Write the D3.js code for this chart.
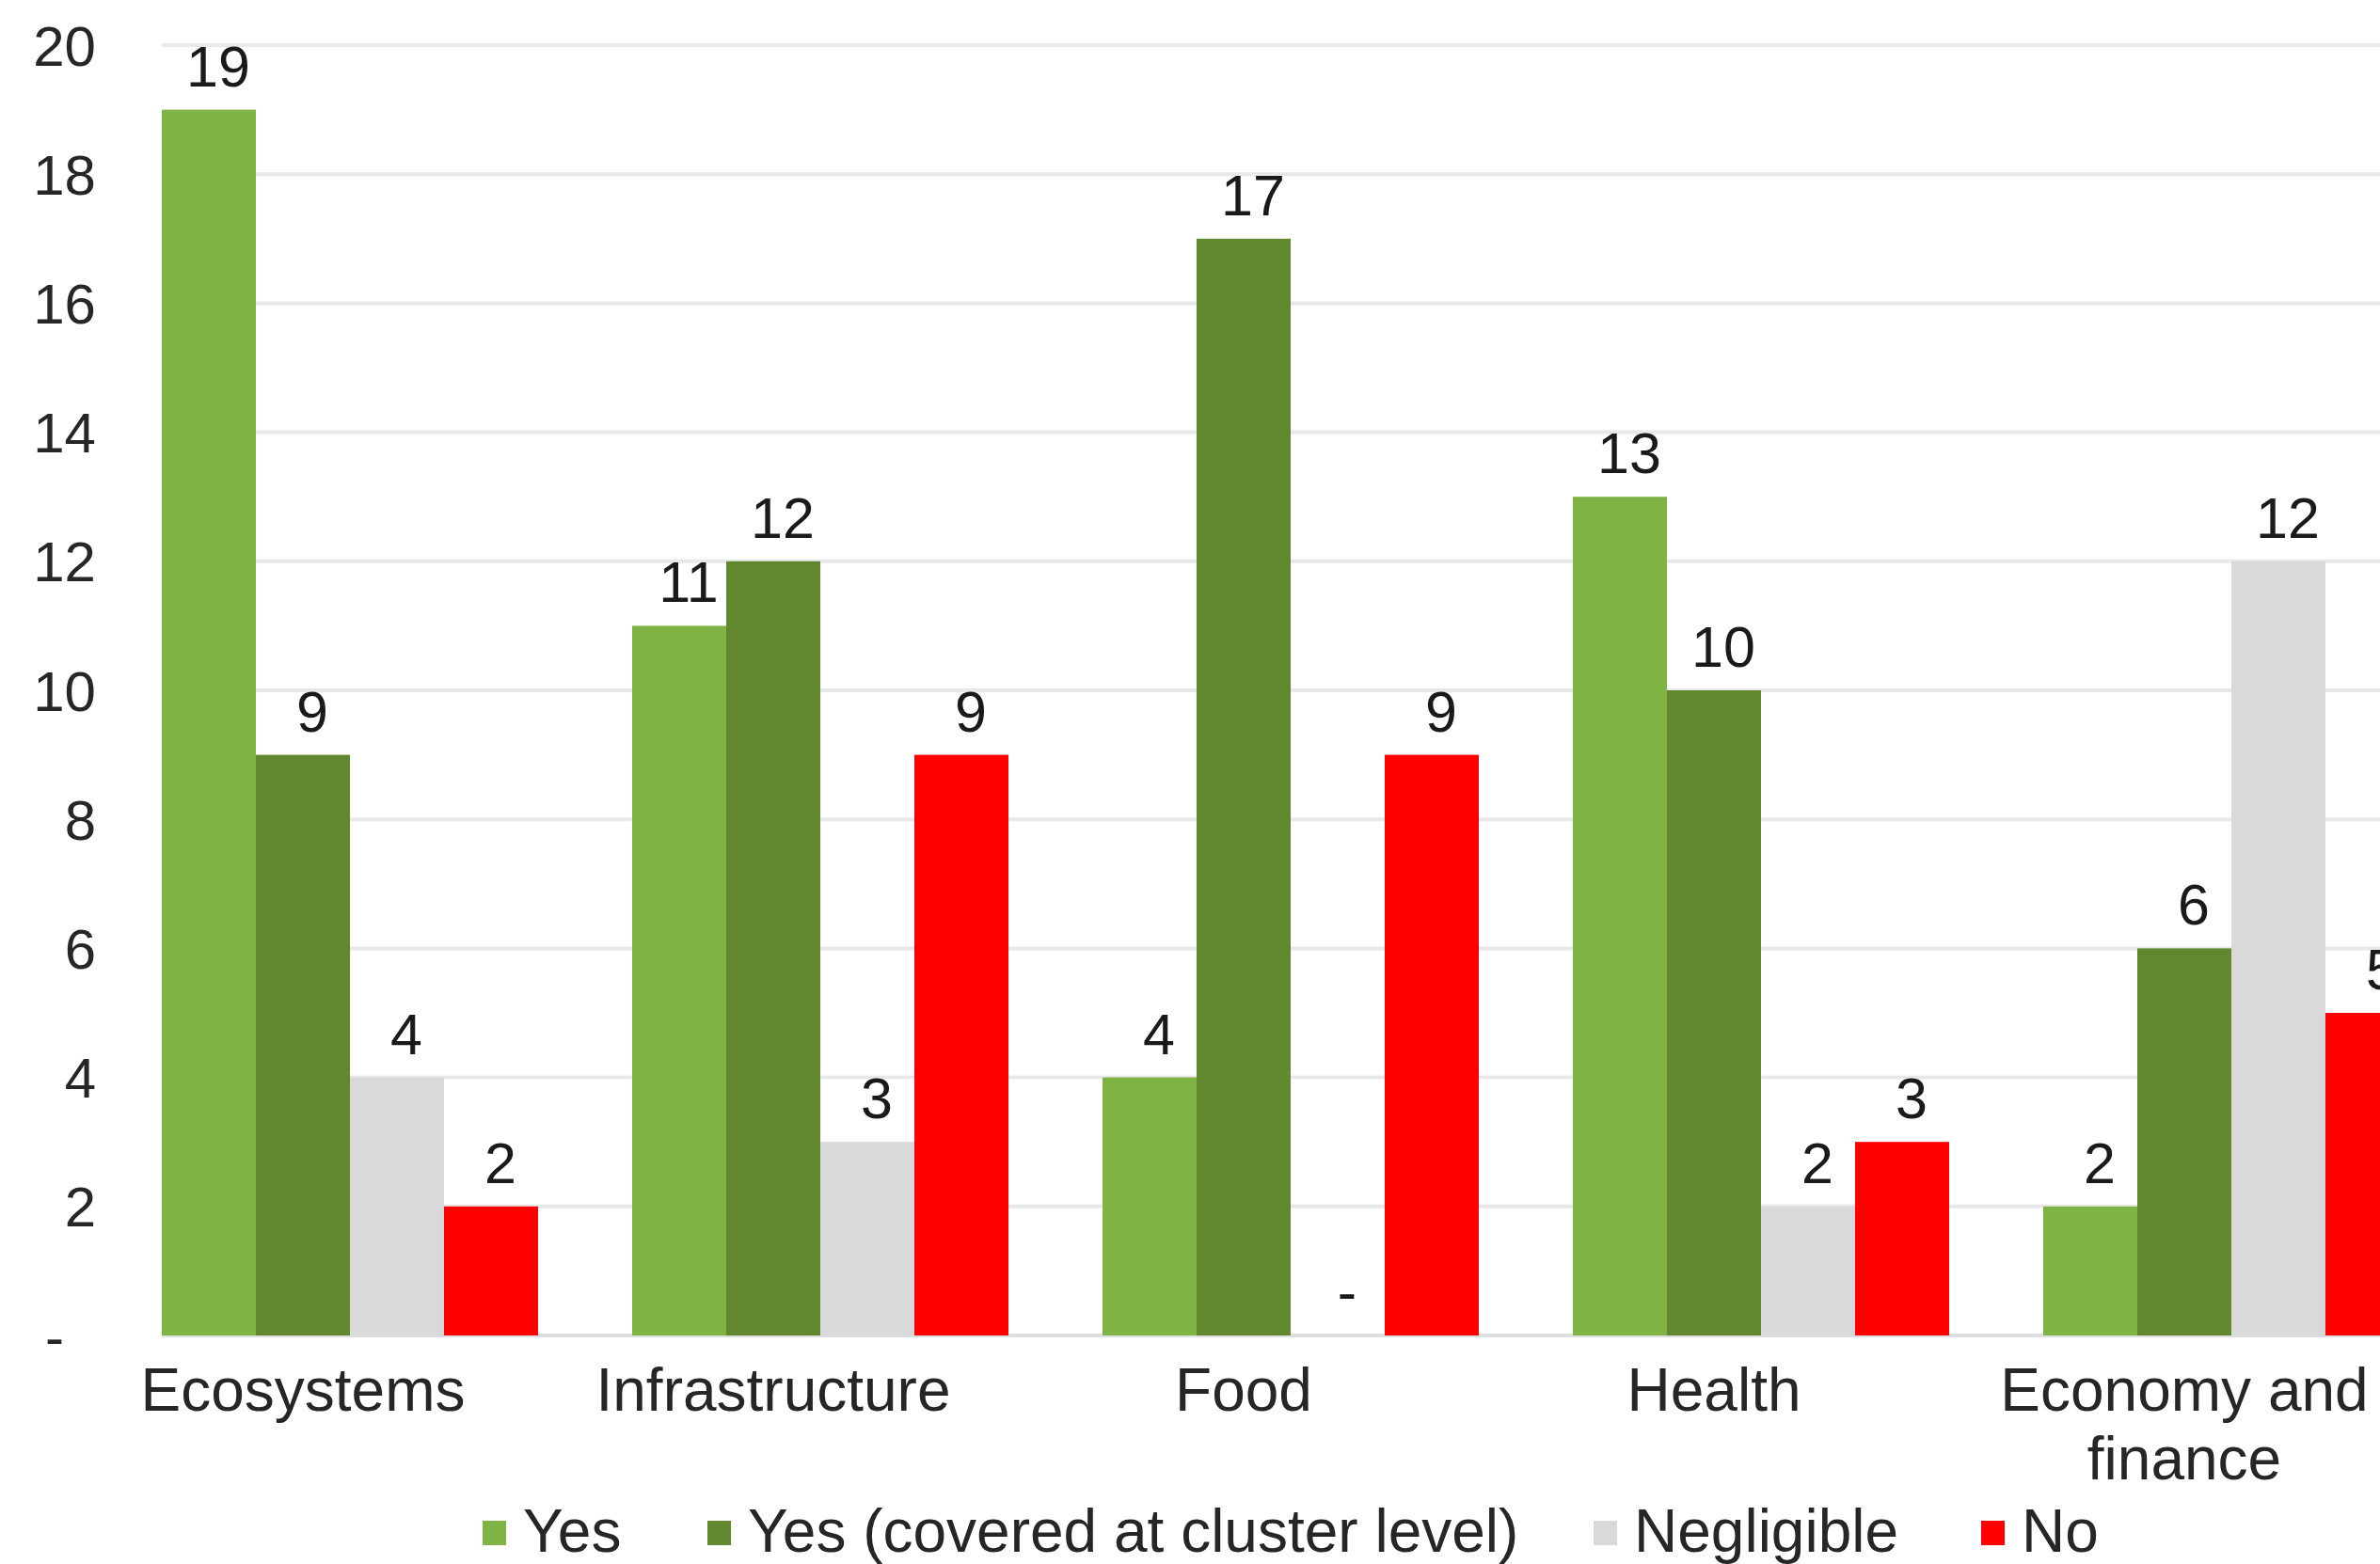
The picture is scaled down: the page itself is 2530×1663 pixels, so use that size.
<!DOCTYPE html>
<html>
<head>
<meta charset="utf-8">
<script src="https://cdn.jsdelivr.net/npm/d3@7"></script>
<style>
  html, body { margin: 0; padding: 0; background: #fff; overflow: hidden; }
  svg { display: block; }
  text { font-family: "Liberation Sans", Arial, sans-serif; }
</style>
</head>
<body>
<svg id="chart" width="2530" height="1663"></svg>
<script>
// Categories (last one runs past the right edge of the frame)
const categories = ["Ecosystems", "Infrastructure", "Food", "Health", "Economy and finance"];
const categoryLines = [["Ecosystems"], ["Infrastructure"], ["Food"], ["Health"], ["Economy and", "finance"]];

// Series
const seriesNames = ["Yes", "Yes (covered at cluster level)", "Negligible", "No"];
const seriesColors = ["#7fb343", "#61882f", "#d9d9d9", "#ff0000"];
const yesValues = [19, 11, 4, 13, 2];
const yesClusterValues = [9, 12, 17, 10, 6];
const negligibleValues = [4, 3, 0, 2, 12];
const noValues = [2, 9, 9, 3, 5];

// Y axis ticks
const yTicks = [0, 2, 4, 6, 8, 10, 12, 14, 16, 18, 20];

const seriesValues = [yesValues, yesClusterValues, negligibleValues, noValues];

const svg = d3.select("#chart");
const W = 2530, H = 1663;
const plotLeft = 172, baseY = 1420, topY = 48;

const x0 = d3.scaleBand().domain(categories).range([72, 2572]).padding(0);
const x1 = d3.scaleBand().domain(seriesNames).range([100, 500]).padding(0);
const y = d3.scaleLinear().domain([0, 20]).range([baseY, topY]);

// Gridlines
svg.append("g")
  .selectAll("line")
  .data(yTicks)
  .join("line")
  .attr("x1", plotLeft)
  .attr("x2", W)
  .attr("y1", d => y(d))
  .attr("y2", d => y(d))
  .attr("stroke", d => d === 0 ? "#dedede" : "#e8e8e8")
  .attr("stroke-width", 4);

// Y axis labels
const yAxis = d3.axisLeft(y)
  .tickValues(yTicks)
  .tickSize(0)
  .tickPadding(0)
  .tickFormat(d => d === 0 ? "-" : d);
const gy = svg.append("g").attr("transform", "translate(102,0)").call(yAxis);
gy.select(".domain").remove();
gy.selectAll("text")
  .attr("font-size", 60)
  .attr("fill", "#262626")
  .attr("font-family", "Liberation Sans, Arial, sans-serif")
  .attr("dy", "0.35em")
  .attr("x", d => d === 0 ? -34 : 0);

// Bars
const groups = svg.append("g")
  .selectAll("g")
  .data(categories)
  .join("g")
  .attr("transform", d => `translate(${x0(d)},0)`);

groups.selectAll("rect")
  .data((c, i) => seriesNames.map((s, j) => ({ s, v: seriesValues[j][i], color: seriesColors[j] })))
  .join("rect")
  .attr("x", d => x1(d.s))
  .attr("width", x1.bandwidth())
  .attr("y", d => y(d.v))
  .attr("height", d => baseY - y(d.v))
  .attr("fill", d => d.color);

// Value labels
groups.selectAll("text.val")
  .data((c, i) => seriesNames.map((s, j) => ({ s, v: seriesValues[j][i] })))
  .join("text")
  .attr("class", "val")
  .attr("x", d => x1(d.s) + x1.bandwidth() / 2 + 10)
  .attr("y", d => y(d.v) - 25)
  .attr("text-anchor", "middle")
  .attr("font-size", 61)
  .attr("fill", "#1a1a1a")
  .text(d => d.v === 0 ? "-" : d.v);

// Category labels
svg.append("g")
  .selectAll("text")
  .data(categories)
  .join("text")
  .attr("x", d => x0(d) + x0.bandwidth() / 2)
  .attr("y", 1500)
  .attr("text-anchor", "middle")
  .attr("font-size", 64)
  .attr("fill", "#262626")
  .selectAll("tspan")
  .data((d, i) => categoryLines[i])
  .join("tspan")
  .attr("x", function() { return d3.select(this.parentNode).attr("x"); })
  .attr("dy", (d, i) => i === 0 ? 0 : 73)
  .text(d => d);

// Legend
const legendX = [513, 752, 1694, 2106];
const legend = svg.append("g")
  .selectAll("g")
  .data(seriesNames)
  .join("g")
  .attr("transform", (d, i) => `translate(${legendX[i]},0)`);
legend.append("rect")
  .attr("x", 0)
  .attr("y", 1617)
  .attr("width", 25)
  .attr("height", 26)
  .attr("fill", (d, i) => seriesColors[i]);
legend.append("text")
  .attr("x", 43)
  .attr("y", 1650)
  .attr("font-size", 64)
  .attr("fill", "#262626")
  .text(d => d);
</script>
</body>
</html>
